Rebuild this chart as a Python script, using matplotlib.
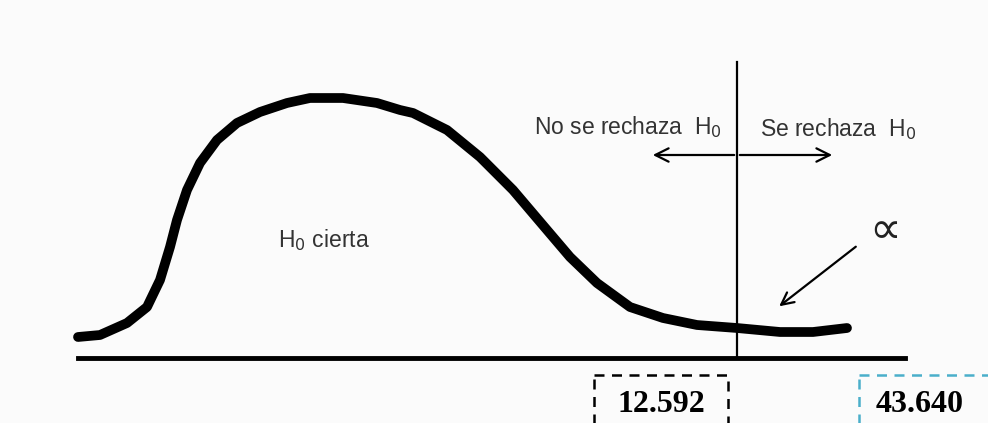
import matplotlib
matplotlib.use("Agg")
import matplotlib.pyplot as plt
from matplotlib.patches import Rectangle

# Hand-drawn curve (pixel coordinates)
curve_x = [78, 100, 127, 147, 160, 170, 177, 187, 200, 217, 237, 260, 287, 310, 343, 377, 400, 413,
           447, 480, 513, 547, 570, 597, 630, 663, 697, 737, 780, 813, 847]
curve_y = [337, 335, 323, 307, 280, 247, 220, 190, 163, 140, 123, 112, 103, 98, 98, 103, 110, 113,
           130, 157, 190, 230, 257, 283, 307, 318, 325, 328, 332, 332, 328]

critical_values = ["12.592", "43.640"]
region_labels = ["No se rechaza  H$_0$", "Se rechaza  H$_0$"]
center_label = "H$_0$ cierta"
alpha_label = "\u221d"

fig = plt.figure(figsize=(9.88, 4.23), dpi=100)
fig.patch.set_facecolor("#fbfbfb")
ax = fig.add_axes([0, 0, 1, 1])
ax.set_xlim(0, 988)
ax.set_ylim(423, 0)
ax.axis("off")
ax.set_facecolor("#fbfbfb")

# curve
ax.plot(curve_x, curve_y, color="black", lw=7, solid_capstyle="round", solid_joinstyle="round")
# baseline
ax.plot([78, 905], [358, 358], color="black", lw=3.5)
# vertical critical line
ax.plot([737, 737], [62, 358], color="black", lw=1.6)
# double arrow
ax.annotate("", xy=(650, 155), xytext=(737, 155),
            arrowprops=dict(arrowstyle="->", lw=1.6, color="black", mutation_scale=24))
ax.annotate("", xy=(835, 155), xytext=(737, 155),
            arrowprops=dict(arrowstyle="->", lw=1.6, color="black", mutation_scale=24))

txt_kw = dict(family="Liberation Sans", color="#333333", fontsize=16.5)
ax.text(628, 127, region_labels[0], ha="center", va="center", **txt_kw)
ax.text(838, 129, region_labels[1], ha="center", va="center", **txt_kw)
ax.text(324, 240, center_label, ha="center", va="center", **txt_kw)

# alpha and its arrow
ax.text(885, 231, alpha_label, ha="center", va="center", fontsize=32, color="#222222",
        family="DejaVu Sans")
ax.annotate("", xy=(777, 308), xytext=(858, 245),
            arrowprops=dict(arrowstyle="->", lw=1.6, color="black", mutation_scale=22))

# boxes with critical values
ax.add_patch(Rectangle((594, 375), 134, 60, fill=False, ls=(0, (4, 3)), lw=1.8, ec="black"))
ax.add_patch(Rectangle((859, 375), 140, 60, fill=False, ls=(0, (4, 3)), lw=1.8, ec="#4aafca"))
ax.text(661, 404, critical_values[0], ha="center", va="center", family="Liberation Serif",
        fontweight="bold", fontsize=23, color="black")
ax.text(920, 404, critical_values[1], ha="center", va="center", family="Liberation Serif",
        fontweight="bold", fontsize=23, color="black")

fig.savefig("out.png", dpi=100, facecolor=fig.get_facecolor())
